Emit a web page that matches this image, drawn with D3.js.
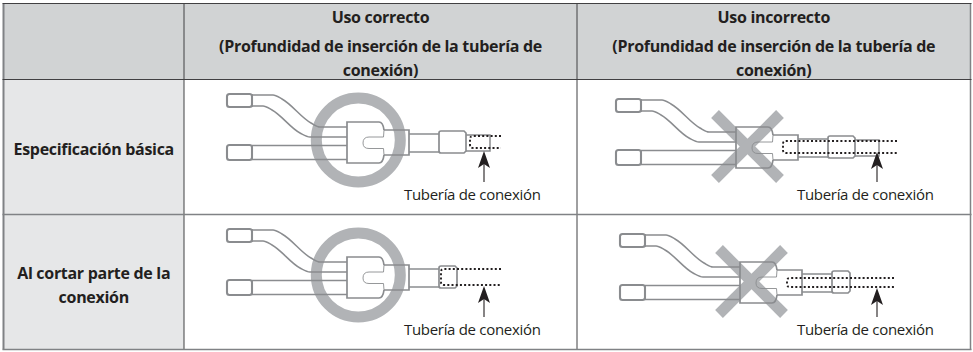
<!DOCTYPE html>
<html>
<head>
<meta charset="utf-8">
<script src="https://cdn.jsdelivr.net/npm/d3@7"></script>
<style>
  html,body{margin:0;padding:0;background:#fff;}
  svg{display:block;}
  text{font-family:"Open Sans",Lato,sans-serif;fill:#231f20;}
  .head{font-size:16px;font-weight:700;letter-spacing:-0.3px;}
  .part{font-size:15px;letter-spacing:-0.3px;}
</style>
</head>
<body>
<div id="graphique"></div>
<script>
// table content
const columnTitles=["Uso correcto","Uso incorrecto"];
const columnNotes=["(Profundidad de inserción de la tubería de","conexión)"];
const rowLabels=[["Especificación básica"],["Al cortar parte de la","conexión"]];
const pipeLabel="Tubería de conexión";
const verdicts=["ok","wrong"];

// per row, per column: how the connection pipe sits in the joint (drawing units)
const pipeStart=[[243,167],[214,167]];
const pipeEnd=[[274,281],[274,274]];
const pipeTop=[[42,42],[40,44]];
const pipeBottom=[[54,54],[56,53]];
const arrowX=[[257,261],[257,257]];
const arrowTip=[[57,53],[57,54]];
const arrowTail=[[88,83],[88,83]];
const collarEnd=[239,230];
const tailEnd=[263,null];

const width=973,height=352;
const line="#8a8c8f",ink="#231f20",mark="#b1b3b6";

const svg=d3.select("#graphique").append("svg").attr("width",width).attr("height",height);

const xEdge=d3.scaleOrdinal().domain(["left","ok","wrong","right"]).range([3.5,184,577,970.5]);
const yEdge=d3.scaleOrdinal().domain(["top","head",0,1]).range([3.5,79.5,214.5,349.5]);
const rowTop=i=>i==0?yEdge("head"):yEdge(0);
const colLeft=j=>xEdge(verdicts[j]);
const colRight=j=>j==0?xEdge("wrong"):xEdge("right");
const drawingOffset=[[[43,14.5],[39,19.5]],[[43,14.5],[43,19.5]]];

// backgrounds
svg.append("rect").attr("x",xEdge("left")).attr("y",yEdge("top"))
    .attr("width",xEdge("right")-xEdge("left")).attr("height",yEdge("head")-yEdge("top"))
    .attr("fill","#d1d3d4");
svg.append("rect").attr("x",xEdge("left")).attr("y",yEdge("head"))
    .attr("width",xEdge("ok")-xEdge("left")).attr("height",yEdge(1)-yEdge("head"))
    .attr("fill","#e6e7e8");

// grid lines
const hline=(y,c,w)=>svg.append("line").attr("x1",xEdge("left")-1).attr("x2",xEdge("right")+1)
    .attr("y1",y).attr("y2",y).attr("stroke",c).attr("stroke-width",w);
const vline=(x,y1,y2,c,w)=>svg.append("line").attr("x1",x).attr("x2",x)
    .attr("y1",y1).attr("y2",y2).attr("stroke",c).attr("stroke-width",w);
vline(xEdge("left"),yEdge("top"),yEdge(1),"#808285",2);
vline(xEdge("right"),yEdge("top"),yEdge(1),"#808285",1.5);
vline(xEdge("ok"),yEdge("top"),yEdge(1),"#414042",1);
vline(xEdge("wrong"),yEdge("top"),yEdge(1),"#414042",1);
hline(yEdge("top"),"#414042",1.2);
hline(yEdge("head"),"#414042",1.2);
hline(yEdge(0),"#808285",1.5);
hline(yEdge(1),"#808285",1.5);

// header text
columnTitles.forEach(function(t,j){
    const cx=(colLeft(j)+colRight(j))/2;
    const g=svg.append("g").attr("class","head").attr("text-anchor","middle");
    g.append("text").attr("x",cx).attr("y",23).text(t);
    g.append("text").attr("x",cx).attr("y",52).text(columnNotes[0]);
    g.append("text").attr("x",cx).attr("y",76).text(columnNotes[1]);
});

// row labels
rowLabels.forEach(function(lines,i){
    const first=[155,279][i];
    lines.forEach(function(t,k){
        svg.append("text").attr("class","head").attr("x",(xEdge("left")+xEdge("ok"))/2).attr("y",first+k*24)
            .attr("text-anchor","middle").text(t);
    });
});

const smooth=d3.line().curve(d3.curveMonotoneX);
const straight=d3.line();

function drawJoint(g,i,j){
    const x=d3.scaleLinear().domain([0,1]).range([0,1]);
    const y=d3.scaleLinear().domain([0,1]).range([0,1]);
    const P=pts=>pts.map(p=>[x(p[0]),y(p[1])]);

    // ring or cross goes under the lines
    if (verdicts[j]=="ok"){
        g.append("circle").attr("cx",x(131.3)).attr("cy",y(46)).attr("r",42)
            .attr("fill","none").attr("stroke",mark).attr("stroke-width",11);
    } else {
        const c=[131.5,47.5],a=32.5;
        [[-1,-1,1,1],[-1,1,1,-1]].forEach(function(s){
            g.append("line").attr("x1",x(c[0]+s[0]*a)).attr("y1",y(c[1]+s[1]*a))
                .attr("x2",x(c[0]+s[2]*a)).attr("y2",y(c[1]+s[3]*a))
                .attr("stroke",mark).attr("stroke-width",11);
        });
    }

    const parts=g.append("g").attr("fill","none").attr("stroke",line).attr("stroke-width",1.5);
    // two couplers on the left
    [[0,13],[51,15]].forEach(function(c){
        parts.append("rect").attr("x",x(0)).attr("y",y(c[0])).attr("width",25).attr("height",c[1])
            .attr("rx",2.5).attr("stroke-width",2.1);
        parts.append("line").attr("x1",x(25)).attr("x2",x(25)).attr("y1",y(c[0])).attr("y2",y(c[0]+c[1]));
    });
    // bent branch
    parts.append("path").attr("d",smooth(P([[25,1],[46,1],[55,5],[84,29],[93,33],[120,33]])));
    parts.append("path").attr("d",smooth(P([[25,12],[36,12],[45,16],[73,39],[83,43],[120,43]])));
    // straight branch
    [51.5,65.5].forEach(function(v){
        parts.append("path").attr("d",straight(P([[25,v],[120,v]])));
    });
    // body, the notch is drawn thinner
    const notchTop=43,notchBottom=54.5;
    parts.append("path").attr("d",
        "M"+x(157)+","+y(36)+"Q"+x(156)+","+y(28)+" "+x(152)+","+y(28)+"H"+x(120)+"V"+y(69)+"H"+x(152)
        +"Q"+x(156)+","+y(69)+" "+x(157)+","+y(61)).attr("stroke-width",1.7);
    parts.append("path").attr("d",
        "M"+x(157)+","+y(36)+"L"+x(156.5)+","+y(notchTop)+"H"+x(142)
        +"Q"+x(136)+","+y(notchTop)+" "+x(136)+","+y(49)
        +"Q"+x(136)+","+y(notchBottom)+" "+x(142)+","+y(notchBottom)
        +"H"+x(156.5)+"L"+x(157)+","+y(61)).attr("stroke-width",0.9);
    // flare
    parts.append("path").attr("d",straight(P([[157,36],[182,36],[182,61],[157,61]]))).attr("stroke-width",1.7);
    // pipe up to the collar
    [40,58].forEach(function(v){
        parts.append("path").attr("d",straight(P([[182,v],[212,v]])));
    });
    // collar and tail
    const ce=collarEnd[i];
    parts.append("path").attr("d",
        "M"+x(214)+","+y(37)+"H"+x(ce-2)+"L"+x(ce)+","+y(39)+"V"+y(57)+"L"+x(ce-2)+","+y(59)
        +"H"+x(214)+"Q"+x(212)+","+y(59)+" "+x(212)+","+y(57)+"V"+y(39)+"Q"+x(212)+","+y(37)+" "+x(214)+","+y(37)+"Z")
        .attr("stroke-width",1.7);
    if (tailEnd[i]!==null){
        parts.append("path").attr("d",straight(P([[ce,41],[tailEnd[i],41],[tailEnd[i],57],[ce,57]])));
    }

    // connection pipe, dotted
    const s=pipeStart[i][j],e=pipeEnd[i][j],t=pipeTop[i][j],b=pipeBottom[i][j];
    g.append("path")
        .attr("d","M"+x(e)+","+y(t)+"H"+x(s+3)+"Q"+x(s)+","+y(t)+" "+x(s)+","+y(t+3)
            +"V"+y(b-3)+"Q"+x(s)+","+y(b)+" "+x(s+3)+","+y(b)+"H"+x(e))
        .attr("fill","none").attr("stroke",ink).attr("stroke-width",1.9).attr("stroke-dasharray","2,2.2");

    // arrow
    const ax=arrowX[i][j],tip=arrowTip[i][j];
    g.append("path").attr("d",straight(P([[ax,tip+12],[ax,arrowTail[i][j]]])))
        .attr("stroke",ink).attr("stroke-width",1.1);
    g.append("path").attr("d",straight(P([[ax,tip],[ax+6,tip+17],[ax,tip+13],[ax-6,tip+17]]))+"Z")
        .attr("fill",ink);
}

// drawings and their labels, one per cell
rowLabels.forEach(function(_,i){
    verdicts.forEach(function(_,j){
        const o=drawingOffset[i][j];
        const g=svg.append("g").attr("transform","translate("+(colLeft(j)+o[0])+","+(rowTop(i)+o[1])+")");
        drawJoint(g,i,j);
        svg.append("text").attr("class","part").attr("x",colLeft(j)+288.3).attr("y",rowTop(i)+120.5)
            .attr("text-anchor","middle").text(pipeLabel);
    });
});
</script>
</body>
</html>
